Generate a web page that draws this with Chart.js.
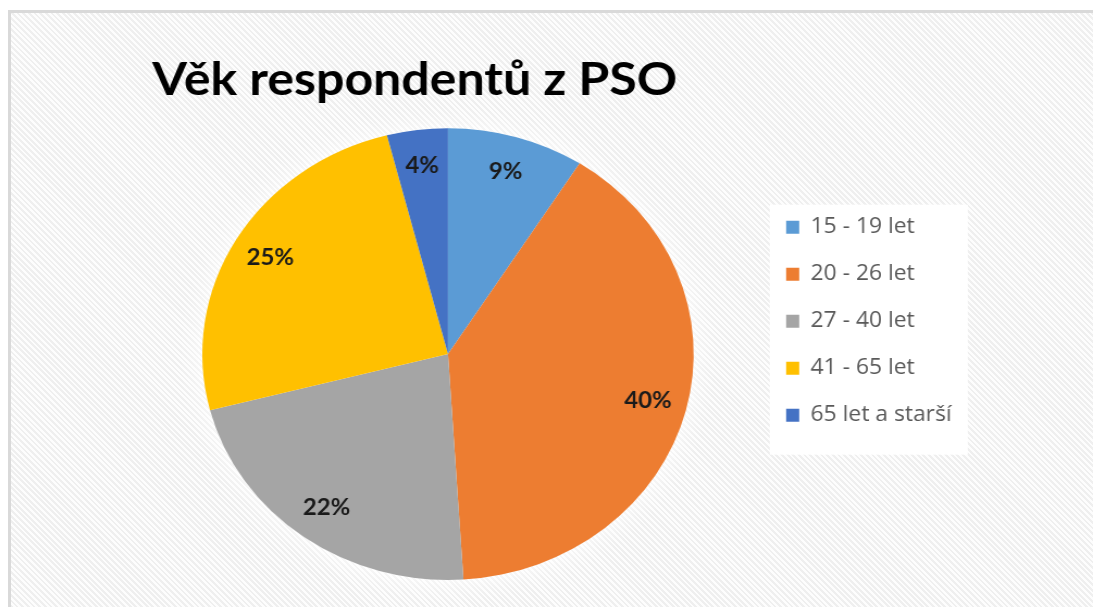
<!DOCTYPE html>
<html>
<head>
<meta charset="utf-8">
<script src="https://cdn.jsdelivr.net/npm/chart.js@4.4.0/dist/chart.umd.min.js"></script>
<style>
  body { margin: 0; background: #fff; width: 1093px; height: 607px; overflow: hidden; position: relative; }
  #ramecek {
    position: absolute; left: 8px; top: 10px; width: 1100px; height: 620px;
    border: 3px solid #d9d9d9;
    background: repeating-linear-gradient(45deg, #fdfdfd 0 2px, #efefef 2px 4px);
  }
  #graf { position: absolute; left: 0; top: 0; transform: scaleX(1.0876); transform-origin: 0 0; }
</style>
</head>
<body>
<div id="ramecek"></div>
<canvas id="graf" width="1005" height="607"></canvas>
<script>
const nadpis = "Věk respondentů z PSO";
const kategorie = ["15 - 19 let", "20 - 26 let", "27 - 40 let", "41 - 65 let", "65 let a starší"];
const podily = [9, 40, 22, 25, 4];
const barvy = ["#5B9BD5", "#ED7D31", "#A5A5A5", "#FFC000", "#4472C4"];

const PAD_LEGENDY = 26;
const PISMO_LEGENDY = 21;

// posune legendu dolu a doprava (jako v Excelu)
const posunLegendy = {
    id: 'posunLegendy',
    afterLayout(chart) {
        const leg = chart.legend;
        const dx = chart.chartArea.right + 13 - leg.left;
        const dy = chart.chartArea.top + 99 - PISMO_LEGENDY / 2 - PAD_LEGENDY - leg.top;
        leg.left += dx; leg.right += dx;
        leg.top += dy; leg.bottom += dy;
    },
    beforeDraw(chart) {
        const leg = chart.legend;
        const ctx = chart.ctx;
        ctx.save();
        ctx.fillStyle = "#ffffff";
        ctx.fillRect(leg.left + PAD_LEGENDY - 15, leg.top + PAD_LEGENDY - 12, 182, 250);
        ctx.restore();
    }
};

// bila zare kolem kolace
const zare = {
    id: 'zare',
    beforeDatasetsDraw(chart) {
        const arc = chart.getDatasetMeta(0).data[0];
        if (!arc) return;
        const ctx = chart.ctx;
        ctx.save();
        ctx.shadowColor = "rgba(255,255,255,1)";
        ctx.shadowBlur = 28;
        ctx.fillStyle = "#ffffff";
        ctx.beginPath();
        ctx.arc(arc.x, arc.y, arc.outerRadius - 1, 0, Math.PI * 2);
        ctx.fill();
        ctx.restore();
    }
};

// popisky s procenty
const popisky = {
    id: 'popisky',
    afterDatasetsDraw(chart) {
        const ctx = chart.ctx;
        ctx.save();
        ctx.font = "bold 22px Lato";
        ctx.fillStyle = "#1a1a1a";
        ctx.textAlign = "center";
        ctx.textBaseline = "middle";
        chart.getDatasetMeta(0).data.forEach((arc, i) => {
            const p = arc.getProps(['x', 'y', 'startAngle', 'endAngle', 'outerRadius'], true);
            const uhel = (p.startAngle + p.endAngle) / 2;
            const r = p.outerRadius * 0.84;
            ctx.fillText(podily[i] + "%", p.x + Math.cos(uhel) * r, p.y + Math.sin(uhel) * r);
        });
        ctx.restore();
    }
};

new Chart(document.getElementById("graf"), {
    type: 'pie',
    data: {
        labels: kategorie,
        datasets: [{
            data: podily,
            backgroundColor: barvy,
            borderWidth: 0
        }]
    },
    options: {
        responsive: false,
        animation: false,
        layout: { padding: { left: 140, right: 133, top: 0, bottom: 27 } },
        plugins: {
            title: {
                display: true,
                text: nadpis,
                align: 'start',
                color: "#000",
                font: { family: "Lato", size: 46, weight: 'bold' },
                padding: { top: 53, bottom: 20 }
            },
            legend: {
                position: 'right',
                align: 'start',
                labels: {
                    color: "#595959",
                    font: { family: "Open Sans", size: PISMO_LEGENDY },
                    boxWidth: 12,
                    boxHeight: 13,
                    padding: PAD_LEGENDY
                }
            },
            tooltip: { enabled: false }
        }
    },
    plugins: [posunLegendy, zare, popisky]
});
</script>
</body>
</html>
